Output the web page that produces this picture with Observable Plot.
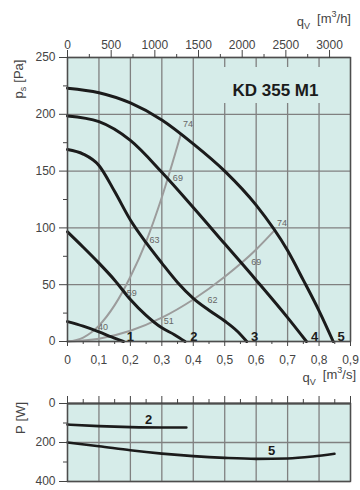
<!DOCTYPE html>
<html><head><meta charset="utf-8">
<script src="https://cdn.jsdelivr.net/npm/d3@7"></script>
<script src="https://cdn.jsdelivr.net/npm/@observablehq/plot@0.6"></script>
<style>
body{margin:0;background:#fff;font-family:"Liberation Sans",Arial,sans-serif}
#wrap{position:relative;width:360px;height:490px;overflow:hidden}
#top,#bot{position:absolute;left:0}
#top{top:0}
#bot{top:390px}
svg{overflow:visible}
</style></head><body><div id="wrap"><div id="top"></div><div id="bot"></div></div>
<script>
// ---- ticks ----
const qTicks = [0, 0.1, 0.2, 0.3, 0.4, 0.5, 0.6, 0.7, 0.8, 0.9];
const qMinor = [0.05, 0.15, 0.25, 0.35, 0.45, 0.55, 0.65, 0.75, 0.85];
const pTicks = [0, 50, 100, 150, 200, 250];
const pMinor = [25, 75, 125, 175, 225];
const m3hTicks = [0, 500, 1000, 1500, 2000, 2500, 3000];
const m3hMinor = [250, 750, 1250, 1750, 2250, 2750];
const powTicks = [0, 200, 400];
const powMinor = [100, 300];

// ---- fan curves [q m3/s, ps Pa] ----
const curveNames = ["1", "2", "3", "4", "5"];
const curve1 = [[0,17.5],[0.05,13.5],[0.1,8.5],[0.14,4],[0.178,0]];
const curve2 = [[0,96.5],[0.05,83],[0.1,69],[0.15,54],[0.2,37],[0.25,23],[0.3,12],[0.34,6],[0.374,0]];
const curve3 = [[0,169],[0.05,165],[0.1,155],[0.15,132],[0.2,107],[0.25,87],[0.3,69],[0.35,52],[0.4,38],[0.45,27.5],[0.5,18],[0.54,9],[0.57,0]];
const curve4 = [[0,198.5],[0.1,193.5],[0.2,177],[0.3,149],[0.4,118],[0.5,86],[0.6,54],[0.7,21],[0.76,0]];
const curve5 = [[0,223],[0.1,219],[0.2,210],[0.3,195],[0.4,174],[0.5,150],[0.6,120],[0.7,80],[0.75,54],[0.8,27],[0.845,0]];

// ---- system (sound level) curves ----
const sysA = [[0,0],[0.05,3.5],[0.1,14],[0.15,32],[0.2,57],[0.25,88],[0.3,127],[0.36,182]];
const sysB = [[0,0],[0.1,2.5],[0.2,9.5],[0.3,21],[0.4,37],[0.5,57],[0.6,81],[0.659,98]];
const sysLabelsA = ["40","59","63","69","74"];
const sysLabelsAq = [0.113,0.204,0.277,0.351,0.383];
const sysLabelsAp = [12.6,42.9,88.9,144,191];
const sysLabelsB = ["51","62","69","74"];
const sysLabelsBq = [0.322,0.461,0.60,0.682];
const sysLabelsBp = [17.6,36.7,69.5,104];
const curveLabelQ = [0.2,0.402,0.595,0.786,0.87];
const curveLabelP = [4.5,4.5,4.5,4.5,4.5];

// ---- power [q m3/s, P W] ----
const powerNames = ["2", "5"];
const power2 = [[0,108],[0.1,116],[0.2,121],[0.3,123],[0.378,123]];
const power5 = [[0,200],[0.1,219],[0.2,240],[0.3,257],[0.4,270],[0.5,279],[0.6,284],[0.7,282],[0.78,272],[0.849,258]];
const powerLabelQ = [0.258, 0.649];
const powerLabelP = [85, 242];

const title = "KD 355 M1";

// ---- styles ----
const BG = "#d6ece9", GRID = "#808080", INK = "#1b1b1b", SYS = "#9c9c9c", TXT = "#444", FRAME = "#4d4d4d";
const FONT = "'Liberation Sans', Arial, sans-serif";
const CURVE = "monotone-x";

const rows = (list, names) => list.flatMap((pts, i) => pts.map(([q, v]) => ({id: names[i], q, v})));
const fanRows = rows([curve1, curve2, curve3, curve4, curve5], curveNames);
const sysRows = rows([sysA, sysB], ["A", "B"]);
const sysLabelRows = [
  ...sysLabelsA.map((t, i) => ({t, q: sysLabelsAq[i], v: sysLabelsAp[i]})),
  ...sysLabelsB.map((t, i) => ({t, q: sysLabelsBq[i], v: sysLabelsBp[i]}))
];
const curveLabelRows = curveNames.map((t, i) => ({t, q: curveLabelQ[i], v: curveLabelP[i]}));
const powRows = rows([power2, power5], powerNames);
const powLabelRows = powerNames.map((t, i) => ({t, q: powerLabelQ[i], v: powerLabelP[i]}));

const qFmt = d => d === 0 ? "0" : d.toFixed(1).replace(".", ",");
const blank = () => "";

const topSvg = Plot.plot({
  width: 360, height: 390,
  marginLeft: 67, marginRight: 10, marginTop: 57, marginBottom: 49,
  style: {fontFamily: FONT, fontSize: "12px", color: TXT, background: "transparent"},
  x: {domain: [0, 0.9]},
  y: {domain: [0, 250]},
  marks: [
    Plot.frame({fill: BG, stroke: "none"}),
    Plot.gridX(qTicks, {stroke: GRID, strokeOpacity: 1, strokeWidth: 1.3}),
    Plot.gridY(pTicks, {stroke: GRID, strokeOpacity: 1, strokeWidth: 1.3}),
    Plot.line(sysRows, {x: "q", y: "v", z: "id", stroke: SYS, strokeWidth: 2, curve: CURVE}),
    Plot.line(fanRows, {x: "q", y: "v", z: "id", stroke: INK, strokeWidth: 3, curve: CURVE}),
    Plot.text(sysLabelRows, {x: "q", y: "v", text: "t", fontSize: 9, fill: "#666"}),
    Plot.text(curveLabelRows, {x: "q", y: "v", text: "t", fontSize: 13, fontWeight: "bold", fill: INK}),
    Plot.frame({stroke: FRAME, strokeWidth: 1.4}),
    Plot.axisY(pTicks, {tickSize: 8, tickPadding: 4, fontSize: 12, label: null, color: TXT}),
    Plot.axisY(pMinor, {tickSize: 4, tickFormat: blank, label: null, color: TXT}),
    Plot.axisX(qTicks, {tickSize: 5, tickPadding: 9, fontSize: 12, tickFormat: qFmt, label: null, color: TXT}),
    Plot.axisX(qMinor, {tickSize: 3, tickFormat: blank, label: null, color: TXT}),
    Plot.axisX(m3hTicks.map(v => v / 3600), {anchor: "top", tickSize: 8, tickPadding: 1, fontSize: 12,
      tickFormat: d => String(Math.round(d * 3600)), label: null, color: TXT}),
    Plot.axisX(m3hMinor.map(v => v / 3600), {anchor: "top", tickSize: 4, tickFormat: blank, label: null, color: TXT})
  ]
});
document.getElementById("top").appendChild(topSvg);

const botSvg = Plot.plot({
  width: 360, height: 100,
  marginLeft: 67, marginRight: 10, marginTop: 13, marginBottom: 9,
  style: {fontFamily: FONT, fontSize: "12px", color: TXT, background: "transparent"},
  x: {domain: [0, 0.9]},
  y: {domain: [0, 400], reverse: true},
  marks: [
    Plot.frame({fill: BG, stroke: "none"}),
    Plot.gridX(qTicks, {stroke: GRID, strokeOpacity: 1, strokeWidth: 1.3}),
    Plot.gridY(powTicks, {stroke: GRID, strokeOpacity: 1, strokeWidth: 1.3}),
    Plot.line(powRows, {x: "q", y: "v", z: "id", stroke: INK, strokeWidth: 2.6, curve: CURVE}),
    Plot.text(powLabelRows, {x: "q", y: "v", text: "t", fontSize: 13, fontWeight: "bold", fill: INK}),
    Plot.frame({stroke: FRAME, strokeWidth: 1.4}),
    Plot.ruleY([0], {stroke: FRAME, strokeWidth: 2}),
    Plot.axisY(powTicks, {tickSize: 8, tickPadding: 4, fontSize: 12, label: null, color: TXT}),
    Plot.axisY(powMinor, {tickSize: 4, tickFormat: blank, label: null, color: TXT}),
    Plot.axisX(qTicks, {anchor: "top", tickSize: 8, tickFormat: blank, label: null, color: TXT}),
    Plot.axisX(qMinor, {anchor: "top", tickSize: 5, tickFormat: blank, label: null, color: TXT})
  ]
});
document.getElementById("bot").appendChild(botSvg);

// ---- axis titles with sub/superscripts ----
function qLabel(svg, x, y, unit) {
  const t = d3.select(svg).append("text")
    .attr("x", x).attr("y", y).attr("text-anchor", "end")
    .attr("fill", TXT).attr("font-size", 13).attr("font-family", FONT);
  t.append("tspan").text("q");
  t.append("tspan").attr("font-size", 9).attr("dy", 3).text("V");
  t.append("tspan").attr("dy", -6).attr("dx", 7).text("[m");
  t.append("tspan").attr("font-size", 9).attr("dy", -6).text("3");
  t.append("tspan").attr("dy", 6).text("/" + unit + "]");
}
qLabel(topSvg, 351, 26, "h");
qLabel(topSvg, 356, 382, "s");

function yLabel(svg, x, y, main, sub, unit) {
  const t = d3.select(svg).append("text")
    .attr("transform", `translate(${x},${y}) rotate(-90)`).attr("text-anchor", "middle")
    .attr("fill", TXT).attr("font-size", 13).attr("font-family", FONT);
  t.append("tspan").text(main);
  if (sub) {
    t.append("tspan").attr("font-size", 9).attr("dy", 3).text(sub);
    t.append("tspan").attr("dy", -3).attr("dx", 4).text(unit);
  } else {
    t.append("tspan").attr("dx", 4).text(unit);
  }
}
yLabel(topSvg, 23, 79, "p", "s", "[Pa]");
yLabel(botSvg, 25, 28, "P", null, "[W]");

// ---- model title box ----
const ts = d3.select(topSvg);
ts.append("rect").attr("x", 222).attr("y", 67).attr("width", 105).attr("height", 36).attr("fill", BG);
ts.append("text").attr("x", 275.5).attr("y", 95.5).attr("text-anchor", "middle")
  .attr("font-family", FONT).attr("font-weight", "bold").attr("font-size", 17).attr("fill", INK).text(title);
</script>
</body></html>
